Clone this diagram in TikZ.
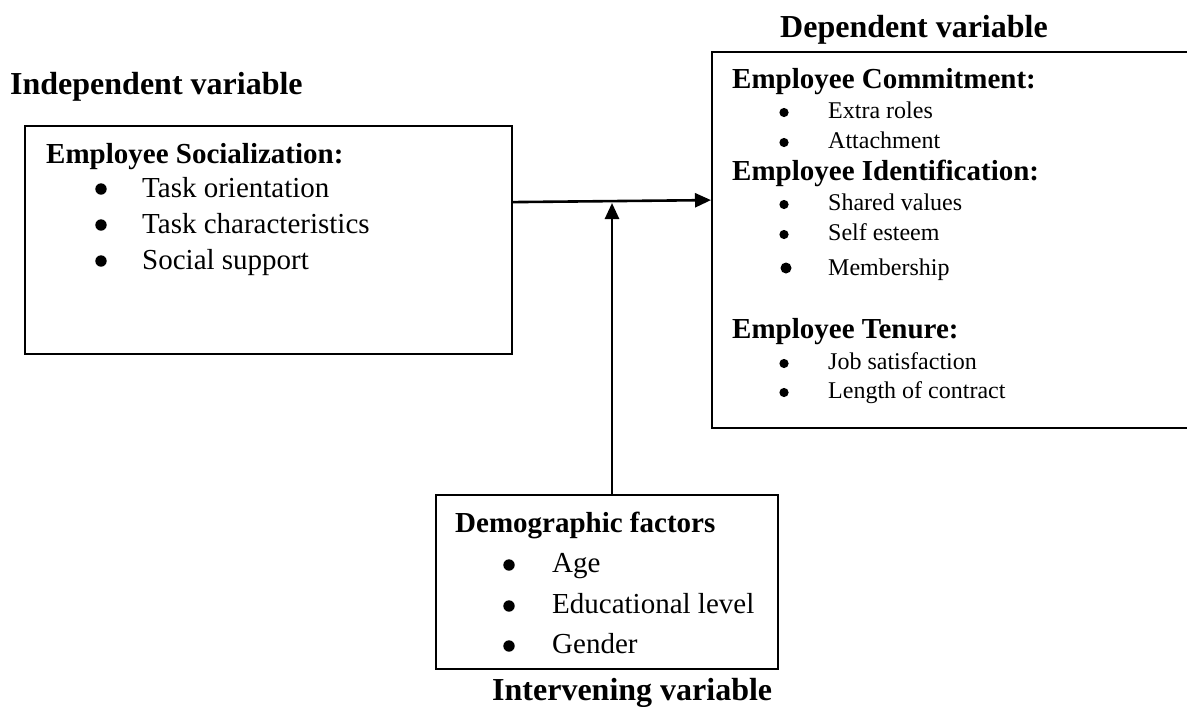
\documentclass[tikz,border=0pt]{standalone}
\usepackage{fontspec}
\setmainfont{Liberation Serif}
\usetikzlibrary{arrows.meta}
\begin{document}
\begin{tikzpicture}[x=1pt,y=-1pt,
  box/.style={draw,line width=2.2pt,inner sep=0pt,rectangle,anchor=north west},
  arr/.style={line width=2.6pt,-{Triangle[length=16pt,width=14pt]}},
  hd/.style={anchor=base west,inner sep=0pt,font=\fontsize{32}{38}\selectfont\bfseries},
  bh/.style={anchor=base west,inner sep=0pt,font=\fontsize{29}{35}\selectfont\bfseries},
  bi/.style={anchor=base west,inner sep=0pt,font=\fontsize{29}{35}\selectfont},
  si/.style={anchor=base west,inner sep=0pt,font=\fontsize{24}{29}\selectfont}]
\useasboundingbox (0,0) rectangle (1187,707);

% boxes
\node[box,minimum width=487pt,minimum height=228pt] (ind) at (24,125) {};
\node[box,minimum width=520pt,minimum height=376pt] (dep) at (711,51) {};
\node[box,minimum width=342pt,minimum height=174pt] (dem) at (435,494) {};

% headings
\node[hd] (hind) at (10,94) {Independent variable};
\node[hd] (hdep) at (780,37) {Dependent variable};
\node[hd] (hint) at (492,700) {Intervening variable};

% independent box
\node[bh] (soc) at (46,163) {Employee Socialization:};
\node[bi] (s1) at (142,197) {Task orientation};
\node[bi] (s2) at (142,233) {Task characteristics};
\node[bi] (s3) at (142,269) {Social support};
\foreach \y in {197,233,269} \fill (101,\y-8) circle (5.7pt);

% dependent box
\node[bh] (com) at (732,88) {Employee Commitment:};
\node[si] (c1) at (828,118) {Extra roles};
\node[si] (c2) at (828,148) {Attachment};
\node[bh] (ide) at (732,180) {Employee Identification:};
\node[si] (i1) at (828,210) {Shared values};
\node[si] (i2) at (828,240) {Self esteem};
\node[si] (i3) at (828,275) {Membership};
\node[bh] (ten) at (732,338) {Employee Tenure:};
\node[si] (t1) at (828,369) {Job satisfaction};
\node[si] (t2) at (828,398) {Length of contract};
\foreach \y in {118,148,210,240,369,398} \fill (784,\y-5.5) circle (4.6pt);
\fill (786,268) circle (5.5pt);

% demographic box
\node[bh] (demh) at (455,532) {Demographic factors};
\node[bi] (d1) at (552,572) {Age};
\node[bi] (d2) at (552,613) {Educational level};
\node[bi] (d3) at (552,653) {Gender};
\foreach \y in {572,613,653} \fill (509,\y-7) circle (5.7pt);

% connectors
\draw[arr] ([yshift=38pt]ind.east) -- ([yshift=40pt]dep.west);
\coordinate (meet) at (612,203);
\draw[arr] (dem.north -| meet) -- (meet);
\end{tikzpicture}
\end{document}
